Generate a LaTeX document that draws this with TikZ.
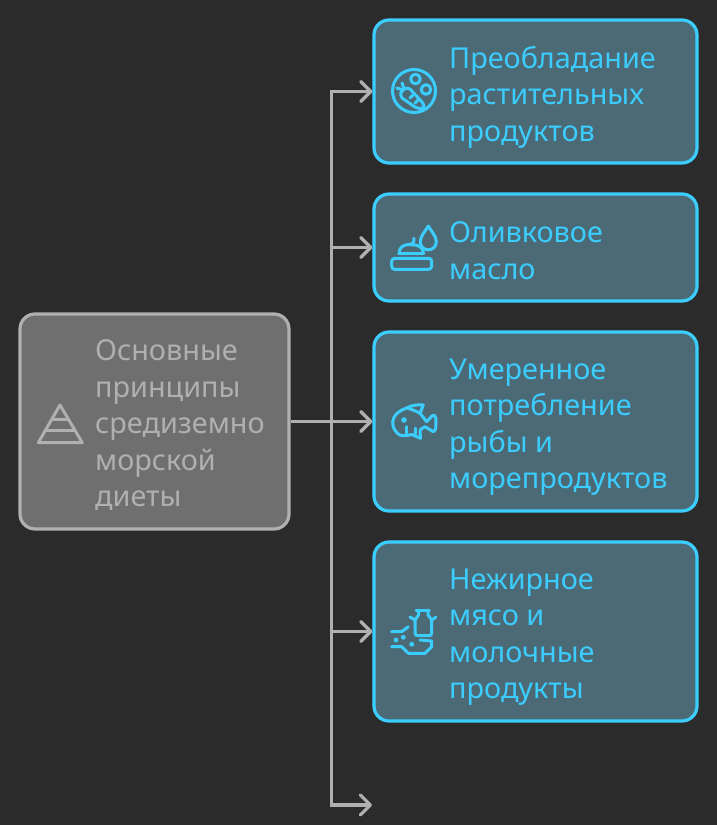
\documentclass[tikz,border=0pt]{standalone}
\usepackage{fontspec}
\setmainfont{Noto Sans}
\usetikzlibrary{arrows.meta}
\definecolor{PageDark}{RGB}{43, 43, 43}
\definecolor{RootFill}{RGB}{111, 111, 111}
\definecolor{RootGray}{RGB}{176, 176, 176}
\definecolor{LeafFill}{RGB}{76, 106, 117}
\definecolor{LeafBlue}{RGB}{60, 205, 255}
\tikzset{
    rootbox/.style={draw=RootGray, fill=RootFill, line width=3.2pt, rounded corners=15pt, minimum width=269pt, minimum height=215pt, inner sep=0pt},
    leafbox/.style={draw=LeafBlue, fill=LeafFill, line width=3.2pt, rounded corners=15pt, minimum width=323pt, inner sep=0pt},
    rootlabel/.style={anchor=west, align=left, inner sep=0pt, text=RootGray, font=\fontsize{28.8}{36.5}\selectfont},
    leaflabel/.style={anchor=west, align=left, inner sep=0pt, text=LeafBlue, font=\fontsize{28.8}{36.5}\selectfont},
    conn/.style={line width=3.3pt, RootGray, -{Straight Barb[length=10pt, width=20pt, round]}},
    leaficon/.style={line width=3pt, LeafBlue, line cap=round, line join=round},
    rooticon/.style={line width=3pt, RootGray, line cap=round, line join=round}
}
\begin{document}
\begin{tikzpicture}[x=1pt, y=-1pt]
            \fill[PageDark] (0,0) rectangle (717,825);
            \useasboundingbox (0,0) rectangle (717,825);

            % Root
            \node[rootbox] (root) at (154.5,421.5) {};
            \node[rootlabel] (rootText) at (95,425.5) {Основные\\принципы\\средиземно\\морской\\диеты};

            % Leaves
            \node[leafbox, minimum height=143pt] (plants) at (535.5,91.5) {};
            \node[leaflabel] (plantsText) at (449,97) {Преобладание\\растительных\\продуктов};
            \node[leafbox, minimum height=107pt] (oil) at (535.5,247.5) {};
            \node[leaflabel] (oilText) at (449,250.5) {Оливковое\\масло};
            \node[leafbox, minimum height=179pt] (fish) at (535.5,421.5) {};
            \node[leaflabel] (fishText) at (449,427) {Умеренное\\потребление\\рыбы и\\морепродуктов};
            \node[leafbox, minimum height=179pt] (dairy) at (535.5,631.5) {};
            \node[leaflabel] (dairyText) at (449,637) {Нежирное\\мясо и\\молочные\\продукты};

            % Arrows
            \coordinate (split) at (331.5,421.5);
            \coordinate (extra) at (372,805);
            \draw[conn] (root.east) -- (split) |- (plants.west);
            \draw[conn] (root.east) -- (split) |- (oil.west);
            \draw[conn] (root.east) -- (fish.west);
            \draw[conn] (root.east) -- (split) |- (dairy.west);
            \draw[conn] (root.east) -- (split) |- (extra);

            % Pyramid icon
            \draw[rooticon] (60,405) -- (38.3,442.7) -- (82.3,442.7) -- cycle;
            \draw[rooticon] (51.7,419.3) -- (68.3,419.3);
            \draw[rooticon] (45,430.7) -- (75,430.7);

            % Plants icon
            \draw[leaficon] (414,91) circle (21.5);
            \draw[leaficon] (410,89) -- (422,102) .. controls (424,105) and (424.5,107) .. (423.5,108) .. controls (420.5,109) and (418,108.5) .. (415,107) -- (402,98) .. controls (399.5,94) and (401,91) .. (403.5,89.5) .. controls (406,88) and (408,87.5) .. (410,89);
            \draw[leaficon] (403,90) -- (396.7,88);
            \draw[leaficon] (404,89) -- (402,83);
            \draw[leaficon] (410,98) -- (413,95);
            \draw[leaficon] (415,103) -- (418,100);
            \draw[leaficon] (415.5,79) circle (4.8);
            \draw[leaficon] (426,89.5) circle (4.8);

            % Oil icon
            \draw[leaficon] (428.3,226) .. controls (431,231) and (436.3,236) .. (436.3,241.7) .. controls (436.3,252.5) and (420.3,252.5) .. (420.3,241.7) .. controls (420.3,236) and (425.6,231) .. (428.3,226) -- cycle;
            \draw[leaficon, rounded corners=3pt] (391.7,258.3) rectangle (431.7,269.3);
            \draw[leaficon] (398.5,253) -- (424,253);
            \draw[leaficon] (399.3,252.7) .. controls (399,247) and (404,245) .. (408,244.5) .. controls (412,244.5) and (414.5,243) .. (414,238.3);
            \draw[leaficon] (408,244.5) -- (415,245) .. controls (419,245.5) and (423,248) .. (423.3,252.7);

            % Fish icon
            \draw[leaficon] (426.7,421.7) -- (432,416) .. controls (435,413.5) and (436,417) .. (436,421.7) .. controls (436,426) and (436,431) .. (433.3,431.7) -- (425,426.7) .. controls (423,428) and (421,429) .. (420,430) -- (420.5,438.3) -- (411.7,434.5) .. controls (406,436) and (401,436.5) .. (398.3,434) .. controls (393.5,430) and (392.7,426) .. (392.7,421.7) .. controls (393,415) and (400,410) .. (406.7,408) .. controls (412,405) and (418,404.5) .. (423.3,405) -- (420,413.3) -- (426.7,421.7);
            \draw[leaficon] (406.7,408) .. controls (411,409) and (416,411) .. (420,413.3);
            \draw[leaficon] (406.7,426.7) -- (406.7,433.3);
            \draw[leaficon] (415,428) -- (415,434);
            \fill[LeafBlue] (404,420) circle (2.8);

            % Dairy icon
            \draw[leaficon] (416,610) -- (429.3,610);
            \draw[leaficon] (418.5,610) -- (418.5,615) -- (415,620) -- (415,632) .. controls (415,635) and (416,635.7) .. (418,635.7) -- (429,635.7) .. controls (431,635.7) and (431.7,635) .. (431.7,632) -- (431.7,620) -- (428,615) -- (428,610);
            \draw[leaficon] (410,617) -- (415,620);
            \draw[leaficon] (436,617) -- (431.7,620);
            \draw[leaficon] (391.7,631.7) -- (401.7,631.7) -- (408.3,626.7);
            \fill[LeafBlue] (396,640) circle (2.4);
            \fill[LeafBlue] (403.3,637.3) circle (2.4);
            \fill[LeafBlue] (411.7,644.3) circle (2.4);
            \draw[leaficon] (391.7,646.7) -- (401.7,646.7) -- (408.3,653.3) -- (425,653.3) -- (431.7,646.7) -- (431.7,641) -- (420,640);
\end{tikzpicture}
\end{document}
